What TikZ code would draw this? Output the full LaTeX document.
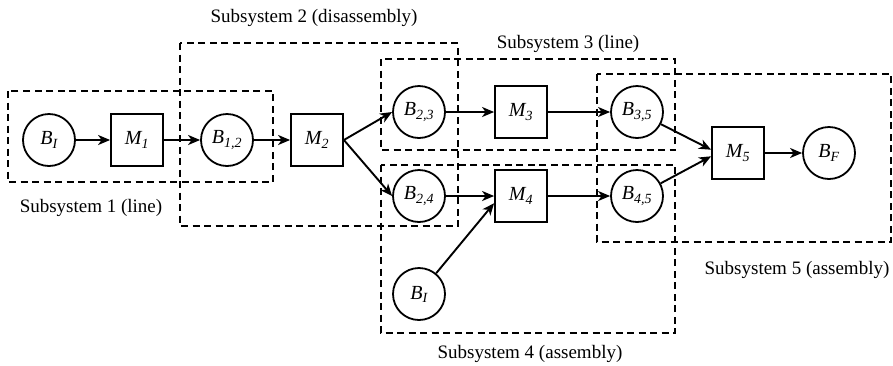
\documentclass[tikz,border=0pt]{standalone}
\usepackage{fontspec}
\setmainfont{Liberation Serif}
\usetikzlibrary{arrows.meta,calc}
\tikzset{
  buf/.style={circle, draw, line width=1.8pt, minimum size=52pt, inner sep=0pt, font=\fontsize{20}{22}\selectfont\itshape},
  mach/.style={rectangle, draw, line width=1.8pt, minimum size=52pt, inner sep=0pt, font=\fontsize{20}{22}\selectfont\itshape},
  flow/.style={line width=1.9pt, -{Stealth[length=12pt,width=10pt,inset=3.5pt]}},
  subsys/.style={draw, line width=2.3pt, dash pattern=on 7pt off 4.5pt},
  lab/.style={font=\fontsize{19}{22}\selectfont, inner sep=0pt}
}
\begin{document}
\begin{tikzpicture}[x=1pt,y=-1pt]
\useasboundingbox (0,0) rectangle (893,365);
% subsystem boxes
\path[subsys] (8,91) rectangle (273,182);
\path[subsys] (180,43) rectangle (458,226);
\path[subsys] (381,59) rectangle (675,150);
\path[subsys] (381,165) rectangle (675,333);
\path[subsys] (597,74) rectangle (891,242);
% labels
\node[lab] (l1) at (91,208) {Subsystem 1 (line)};
\node[lab] (l2) at (314,18) {Subsystem 2 (disassembly)};
\node[lab] (l3) at (568,44) {Subsystem 3 (line)};
\node[lab] (l4) at (530,354) {Subsystem 4 (assembly)};
\node[lab] (l5) at (797,270) {Subsystem 5 (assembly)};
% nodes
\node[buf] (bI1) at (49,140) {B\textsubscript{I}};
\node[mach] (m1) at (137,140) {M\textsubscript{1}};
\node[buf] (b12) at (227,140) {B\textsubscript{1,2}};
\node[mach] (m2) at (317,140) {M\textsubscript{2}};
\node[buf] (b23) at (419,112) {B\textsubscript{2,3}};
\node[mach] (m3) at (521,112) {M\textsubscript{3}};
\node[buf] (b35) at (637,112) {B\textsubscript{3,5}};
\node[buf] (b24) at (419,196) {B\textsubscript{2,4}};
\node[mach] (m4) at (521,196) {M\textsubscript{4}};
\node[buf] (b45) at (637,196) {B\textsubscript{4,5}};
\node[buf] (bI2) at (419,294) {B\textsubscript{I}};
\node[mach] (m5) at (738,153) {M\textsubscript{5}};
\node[buf] (bF) at (829,153) {B\textsubscript{F}};
% connectors
\draw[flow] (bI1) -- (m1);
\draw[flow] (m1) -- (b12);
\draw[flow] (b12) -- (m2);
\draw[flow] (m2.east) -- (b23.west);
\draw[flow] (m2.east) -- (b24.west);
\draw[flow] (b23) -- (m3);
\draw[flow] (m3) -- (b35);
\draw[flow] (b24) -- (m4);
\draw[flow] (m4) -- (b45);
\draw[flow] (bI2) -- (m4.195);
\draw[flow] (b35) -- (m5.173);
\draw[flow] (b45) -- (m5.187);
\draw[flow] (m5) -- (bF);
\end{tikzpicture}
\end{document}
